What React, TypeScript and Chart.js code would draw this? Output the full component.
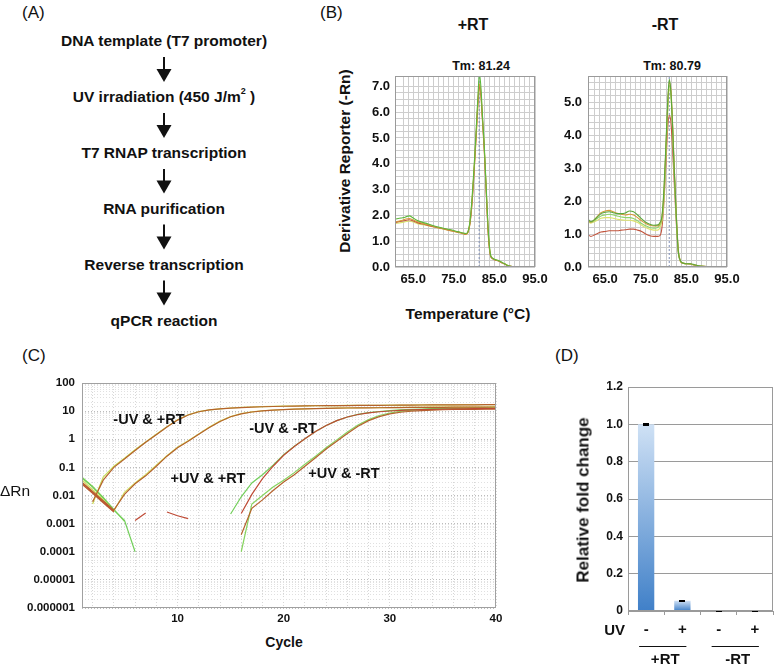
import React, { useEffect, useRef } from 'react';
import { Chart, registerables } from 'chart.js';

Chart.register(...registerables);

const FONT = '"Liberation Sans", Arial, Helvetica, sans-serif';

// ---------------- Panel A ----------------
const A_STEPS = [
  'DNA template (T7 promoter)',
  'UV irradiation (450 J/m',
  'T7 RNAP transcription',
  'RNA purification',
  'Reverse transcription',
  'qPCR reaction',
];

// ---------------- Panel B (melt curves) ----------------
const B1_TITLE = '+RT';
const B2_TITLE = '-RT';
const B1_TM = 81.24;
const B2_TM = 80.79;

const B1_TEMP = [60.5, 62, 63, 64, 65, 66, 68, 70, 72, 74, 76, 77, 78, 78.5, 79, 79.5, 80, 80.5, 81, 81.3, 81.7, 82, 82.5, 83, 83.5, 84, 84.5, 85, 86, 87, 88, 89, 90, 91, 92.8];
const B1_GREEN = [1.85, 1.9, 1.93, 1.98, 1.9, 1.8, 1.7, 1.6, 1.52, 1.45, 1.37, 1.33, 1.3, 1.38, 1.8, 2.7, 3.9, 5.3, 6.8, 7.5, 6.9, 6.0, 4.7, 3.0, 1.4, 0.5, 0.35, 0.3, 0.25, 0.17, 0.08, 0.03, 0.01, 0.0, 0.0];
const B1_ORANGE = [1.75, 1.8, 1.85, 1.88, 1.82, 1.75, 1.66, 1.58, 1.5, 1.43, 1.36, 1.32, 1.28, 1.36, 1.75, 2.6, 3.8, 5.2, 6.6, 7.1, 6.7, 5.9, 4.6, 2.9, 1.3, 0.48, 0.34, 0.29, 0.24, 0.16, 0.08, 0.03, 0.01, 0.0, 0.0];
const B1_RED = [1.72, 1.77, 1.8, 1.83, 1.78, 1.72, 1.64, 1.56, 1.49, 1.42, 1.35, 1.31, 1.27, 1.35, 1.7, 2.5, 3.7, 5.1, 6.5, 7.0, 6.6, 5.8, 4.5, 2.8, 1.2, 0.45, 0.33, 0.28, 0.23, 0.15, 0.07, 0.03, 0.01, 0.0, 0.0];
const B1_YELLOW = [1.68, 1.72, 1.75, 1.78, 1.74, 1.68, 1.62, 1.55, 1.48, 1.41, 1.34, 1.3, 1.26, 1.33, 1.72, 2.55, 3.75, 5.0, 6.4, 6.9, 6.6, 5.85, 4.6, 2.9, 1.3, 0.47, 0.34, 0.29, 0.24, 0.16, 0.08, 0.03, 0.01, 0.0, 0.0];

const B2_TEMP = [60.8, 61.5, 62.5, 64, 65, 66, 67, 68, 69, 70, 71, 72, 73, 74, 75, 76, 77, 78, 78.5, 79, 79.5, 80, 80.4, 80.8, 81.2, 81.6, 82, 82.5, 83, 83.5, 84, 85, 86, 87, 88, 89, 90, 91, 92.5];
const B2_GREEN = [1.45, 1.38, 1.45, 1.62, 1.66, 1.68, 1.65, 1.62, 1.62, 1.64, 1.7, 1.68, 1.58, 1.46, 1.36, 1.3, 1.27, 1.28, 1.35, 1.55, 2.4, 3.8, 5.0, 5.7, 5.3, 4.3, 3.0, 1.6, 0.5, 0.2, 0.13, 0.1, 0.1, 0.07, 0.04, 0.02, 0.01, 0.0, 0.0];
const B2_ORANGE = [1.42, 1.36, 1.45, 1.65, 1.7, 1.72, 1.68, 1.63, 1.6, 1.58, 1.6, 1.58, 1.5, 1.4, 1.32, 1.27, 1.25, 1.25, 1.32, 1.5, 2.3, 3.7, 4.9, 5.6, 5.4, 4.4, 3.1, 1.7, 0.55, 0.2, 0.12, 0.1, 0.09, 0.06, 0.03, 0.02, 0.01, 0.0, 0.0];
const B2_LIGHT = [1.4, 1.35, 1.42, 1.55, 1.58, 1.6, 1.58, 1.55, 1.52, 1.5, 1.5, 1.47, 1.4, 1.32, 1.25, 1.2, 1.18, 1.2, 1.28, 1.45, 2.2, 3.6, 4.8, 5.5, 5.3, 4.3, 3.0, 1.6, 0.5, 0.2, 0.12, 0.1, 0.09, 0.06, 0.03, 0.02, 0.01, 0.0, 0.0];
const B2_YELLOW = [1.38, 1.33, 1.38, 1.48, 1.5, 1.5, 1.48, 1.45, 1.43, 1.42, 1.42, 1.4, 1.35, 1.27, 1.2, 1.15, 1.12, 1.12, 1.2, 1.4, 2.1, 3.5, 4.7, 5.4, 5.2, 4.2, 2.9, 1.5, 0.48, 0.18, 0.12, 0.1, 0.09, 0.06, 0.03, 0.02, 0.01, 0.0, 0.0];
const B2_RED = [0.98, 0.93, 0.98, 1.06, 1.08, 1.1, 1.1, 1.1, 1.12, 1.13, 1.15, 1.15, 1.12, 1.08, 1.0, 0.95, 0.93, 0.93, 0.95, 1.2, 2.0, 3.2, 4.2, 4.6, 4.4, 3.6, 2.6, 1.4, 0.45, 0.18, 0.12, 0.1, 0.09, 0.06, 0.03, 0.02, 0.01, 0.0, 0.0];

// ---------------- Panel C (amplification plot) ----------------
const C_CYCLES = [1, 2, 3, 4, 5, 6, 7, 8, 9, 10, 11, 12, 13, 14, 15, 16, 17, 18, 19, 20, 21, 22, 23, 24, 25, 26, 27, 28, 29, 30, 31, 32, 33, 34, 35, 36, 37, 38, 39, 40];
const C_Y_TICKS = [100, 10, 1, 0.1, 0.01, 0.001, 0.0001, 0.00001, 0.000001];
const C_X_TICKS = [10, 20, 30, 40];

const C_MUV_PRT_BROWN = [null, 0.006, 0.035, 0.1, 0.2, 0.4, 0.78, 1.45, 2.7, 4.8, 7.3, 9.5, 11, 12, 12.8, 13.4, 13.9, 14.3, 14.6, 14.9, 15.1, 15.3, 15.5, 15.6, 15.7, 15.8, 15.9, 16, 16.1, 16.2, 16.3, 16.4, 16.5, 16.6, 16.6, 16.7, 16.8, 16.8, 16.9, 17];
const C_MUV_PRT_GREEN = [null, 0.005, 0.045, 0.11, 0.21, 0.42, 0.8, 1.5, 2.8, 4.9, 7.4, 9.6, 11.1, 12.1, 12.9, 13.5, 14, 14.4, 14.7, 15, 15.2, 15.4, 15.6, 15.7, 15.8, 15.9, 16, 16.1, 16.2, 16.3, 16.4, 16.5, 16.6, 16.7, 16.7, 16.8, 16.9, 16.9, 17, 17.1];
const C_PUV_PRT_BROWN = [0.03, 0.014, 0.0065, 0.003, 0.011, 0.026, 0.05, 0.11, 0.25, 0.5, 0.85, 1.5, 2.6, 4.3, 6.3, 8, 9.3, 10.2, 10.8, 11.3, 11.7, 12, 12.3, 12.5, 12.7, 12.9, 13, 13.1, 13.2, 13.3, 13.4, 13.5, 13.6, 13.7, 13.7, 13.8, 13.8, 13.9, 13.9, 14];
const C_PUV_PRT_GREEN = [0.036, 0.016, 0.007, 0.0028, 0.013, 0.028, 0.055, 0.12, 0.26, 0.52, 0.88, 1.55, 2.7, 4.4, 6.4, 8.1, 9.4, 10.3, 10.9, 11.4, 11.8, 12.1, 12.4, 12.6, 12.8, 13, 13.1, 13.2, 13.3, 13.4, 13.5, 13.6, 13.7, 13.8, 13.8, 13.9, 13.9, 14, 14, 14.1];
const C_MUV_MRT_BROWN = [0.028, 0.013, 0.006, 0.0028, null, 0.0013, 0.0024, null, 0.0026, 0.0019, 0.0015, null, null, null, null, 0.0023, 0.011, 0.04, 0.11, 0.27, 0.55, 1.05, 1.9, 3.1, 4.6, 6.2, 7.6, 8.7, 9.5, 10.1, 10.6, 11, 11.3, 11.6, 11.8, 12, 12.1, 12.2, 12.3, 12.4];
const C_MUV_MRT_GREEN = [0.042, 0.02, 0.008, 0.003, 0.0013, 0.0001, null, null, null, null, null, null, null, null, 0.0022, 0.009, 0.028, 0.055, 0.12, 0.28, 0.56, 1.05, 1.9, 3.1, 4.6, 6.2, 7.7, 8.8, 9.7, 10.4, 11, 11.5, 11.9, 12.2, 12.5, 12.7, 12.9, 13, 13.1, 13.2];
const C_PUV_MRT_BROWN = [0.025, 0.012, 0.0055, 0.0026, null, null, null, null, null, null, null, null, null, null, null, 0.0004, 0.0035, 0.007, 0.015, 0.03, 0.055, 0.11, 0.22, 0.45, 0.85, 1.6, 2.9, 4.6, 6.4, 8, 9.1, 9.9, 10.5, 10.9, 11.2, 11.4, 11.5, 11.6, 11.7, 11.8];
const C_PUV_MRT_GREEN = [0.045, 0.021, 0.0085, 0.0032, 0.0012, null, null, null, null, null, null, null, null, null, null, 0.0001, 0.005, 0.01, 0.02, 0.035, 0.065, 0.13, 0.25, 0.5, 0.95, 1.8, 3.2, 5, 7, 8.6, 9.8, 10.7, 11.3, 11.8, 12.2, 12.5, 12.7, 12.9, 13, 13.1];

const C_LABELS = ['-UV & +RT', '-UV & -RT', '+UV & +RT', '+UV & -RT'];

// ---------------- Panel D (bars) ----------------
const D_UV = ['-', '+', '-', '+'];
const D_GROUPS = ['+RT', '-RT'];
const D_FACTOR = 'UV';
const D_VALUES = [1.0, 0.055, 0.003, 0.002];
const D_ERRORS = [0.008, 0.006, 0.004, 0.004];

// ---------------- helpers ----------------
const fixY = (w: number) => (s: any) => { s.width = w; s.paddingTop = 0; s.paddingBottom = 0; };
const fixX = (h: number) => (s: any) => { s.height = h; s.paddingLeft = 0; s.paddingRight = 0; };

const framePlugin = {
  id: 'frame',
  afterDraw(chart: any, _a: any, opts: any) {
    const { ctx, chartArea } = chart;
    if (!chartArea) return;
    ctx.save();
    ctx.strokeStyle = opts.color || '#999';
    ctx.lineWidth = 1;
    const l = Math.round(chartArea.left), t = Math.round(chartArea.top);
    const r = Math.round(chartArea.right), b = Math.round(chartArea.bottom);
    ctx.strokeRect(l + 0.5, t + 0.5, r - l - 1, b - t - 1);
    ctx.restore();
  },
};

const isInt = (v: number) => Math.abs(v - Math.round(v)) < 1e-6;

function meltConfig(temps: number[], series: { v: number[]; c: string }[], o: any) {
  return {
    type: 'line',
    data: {
      datasets: [
        ...series.map((s) => ({
          data: temps.map((t, i) => ({ x: t, y: s.v[i] })),
          borderColor: s.c,
          borderWidth: 1.1,
          pointRadius: 0,
          cubicInterpolationMode: 'monotone',
          fill: false,
        })),
        {
          data: [{ x: o.tm, y: 0 }, { x: o.tm, y: o.yMax }],
          borderColor: '#7f8fb8',
          borderWidth: 1,
          borderDash: [2, 2],
          pointRadius: 0,
        },
      ],
    },
    options: {
      responsive: false,
      animation: false,
      events: [],
      layout: { padding: o.pad },
      plugins: { legend: { display: false }, tooltip: { enabled: false }, frame: { color: '#9a9a9a' } },
      scales: {
        x: {
          type: 'linear',
          min: o.xMin,
          max: 95,
          afterFit: fixX(o.axisH),
          grid: { color: '#cdcdcd', drawTicks: false },
          border: { display: false },
          ticks: {
            stepSize: 1.25,
            autoSkip: false,
            maxRotation: 0,
            padding: 5,
            color: '#111',
            font: { family: FONT, size: 13, weight: 'bold' },
            callback: (v: number) => (Math.abs((v % 10) - 5) < 1e-6 ? v.toFixed(1) : ''),
          },
        },
        y: {
          type: 'linear',
          min: 0,
          max: o.yMax,
          afterFit: fixY(o.axisW),
          grid: { color: '#cdcdcd', drawTicks: false },
          border: { display: false },
          ticks: {
            stepSize: o.yStep,
            autoSkip: false,
            padding: o.yPad,
            color: '#111',
            font: { family: FONT, size: 13, weight: 'bold' },
            callback: (v: number) => (isInt(v) ? v.toFixed(1) : ''),
          },
        },
      },
    },
    plugins: [framePlugin],
  };
}

const makeB1 = () =>
  meltConfig(
    B1_TEMP,
    [
      { v: B1_GREEN, c: '#5db83b' },
      { v: B1_ORANGE, c: '#d69a3c' },
      { v: B1_RED, c: '#c2553e' },
      { v: B1_YELLOW, c: '#d9e26b' },
    ],
    { tm: B1_TM, yMax: 7.4, yStep: 0.25, xMin: 60.5, axisW: 55, axisH: 43, yPad: 5, pad: { left: 0, top: 6, right: 15, bottom: 0 } }
  );

const makeB2 = () =>
  meltConfig(
    B2_TEMP,
    [
      { v: B2_GREEN, c: '#5aa83a' },
      { v: B2_ORANGE, c: '#d69a3c' },
      { v: B2_LIGHT, c: '#8fd46a' },
      { v: B2_YELLOW, c: '#dde36c' },
      { v: B2_RED, c: '#c2553e' },
    ],
    { tm: B2_TM, yMax: 5.8, yStep: 0.2, xMin: 60.8, axisW: 43, axisH: 43, yPad: 6, pad: { left: 0, top: 6, right: 18, bottom: 0 } }
  );

const cLine = (vals: (number | null)[], color: string) => ({
  data: C_CYCLES.map((c, i) => ({ x: c, y: vals[i] })),
  borderColor: color,
  borderWidth: 1.2,
  pointRadius: 0,
  tension: 0,
  spanGaps: false,
  fill: false,
});

const BROWN = '#b5622d';
const makeC = () => ({
  type: 'line',
  data: {
    datasets: [
      cLine(C_MUV_PRT_BROWN, BROWN),
      cLine(C_PUV_PRT_BROWN, BROWN),
      cLine(C_MUV_MRT_BROWN, '#bf4a35'),
      cLine(C_PUV_MRT_BROWN, BROWN),
      cLine(C_MUV_PRT_GREEN, '#c8dc55'),
      cLine(C_PUV_PRT_GREEN, '#d2de5a'),
      cLine(C_MUV_MRT_GREEN, '#72cf5a'),
      cLine(C_PUV_MRT_GREEN, '#86d45e'),
    ],
  },
  options: {
    responsive: false,
    animation: false,
    events: [],
    layout: { padding: { left: 0, top: 13, right: 14, bottom: 0 } },
    plugins: { legend: { display: false }, tooltip: { enabled: false }, frame: { color: '#a0a0a0' } },
    scales: {
      x: {
        type: 'linear',
        min: 1,
        max: 40,
        afterFit: fixX(24),
        grid: { color: '#d6d6d6', drawTicks: false },
        border: { display: false, dash: [1, 2] },
        ticks: {
          stepSize: 2,
          autoSkip: false,
          maxRotation: 0,
          padding: 4,
          color: '#111',
          font: { family: FONT, size: 11.5, weight: 'bold' },
          callback: (v: number) => (C_X_TICKS.includes(v) ? String(v) : ''),
        },
      },
      y: {
        type: 'logarithmic',
        min: 0.000001,
        max: 100,
        afterFit: fixY(62),
        grid: {
          drawTicks: false,
          color: (ctx: any) => {
            const v = ctx.tick ? ctx.tick.value : 1;
            return isInt(Math.log10(v)) ? '#bcbcbc' : '#e0e0e0';
          },
        },
        border: { display: false, dash: [1, 2] },
        ticks: {
          autoSkip: false,
          padding: 7,
          color: '#111',
          font: { family: FONT, size: 11.5, weight: 'bold' },
          callback: (v: number) => {
            const hit = C_Y_TICKS.find((t) => Math.abs(Math.log10(t) - Math.log10(v)) < 1e-6);
            if (hit === undefined) return '';
            return hit >= 1 ? String(hit) : hit.toFixed(Math.round(-Math.log10(hit)));
          },
        },
      },
    },
  },
  plugins: [framePlugin],
});

const dPlugin = {
  id: 'dAnnot',
  afterDatasetsDraw(chart: any) {
    const { ctx, scales } = chart;
    const meta = chart.getDatasetMeta(0);
    ctx.save();
    ctx.fillStyle = '#000';
    D_VALUES.forEach((v, i) => {
      const bar = meta.data[i];
      const yt = scales.y.getPixelForValue(v + D_ERRORS[i]);
      const yb = scales.y.getPixelForValue(Math.max(0, v - D_ERRORS[i]));
      ctx.fillRect(Math.round(bar.x) - 3, Math.round(yt), 6, Math.max(2, Math.round(yb - yt)));
    });
    ctx.restore();
  },
  afterDraw(chart: any) {
    const { ctx, chartArea, scales } = chart;
    const b = chartArea.bottom;
    ctx.save();
    ctx.fillStyle = '#111';
    ctx.strokeStyle = '#111';
    ctx.lineWidth = 1;
    ctx.font = `bold 15px ${FONT}`;
    ctx.textBaseline = 'middle';
    ctx.textAlign = 'right';
    ctx.fillText(D_FACTOR, chartArea.left - 3, b + 20);
    D_GROUPS.forEach((g, gi) => {
      const xa = scales.x.getPixelForValue(gi * 2);
      const xb = scales.x.getPixelForValue(gi * 2 + 1);
      ctx.beginPath();
      ctx.moveTo(xa - 7, Math.round(b + 35) + 0.5);
      ctx.lineTo(xb + 4, Math.round(b + 35) + 0.5);
      ctx.stroke();
      ctx.textAlign = 'center';
      ctx.fillText(g, (xa + xb) / 2 + 1, b + 49);
    });
    ctx.restore();
  },
};

const makeD = () => ({
  type: 'bar',
  data: {
    labels: D_UV,
    datasets: [
      {
        data: D_VALUES,
        borderWidth: 0,
        barPercentage: 0.45,
        categoryPercentage: 1,
        backgroundColor: (ctx: any) => {
          const chart = ctx.chart;
          if (!chart.chartArea || !chart.scales.y) return '#9fc2ea';
          const y = chart.scales.y;
          const top = y.getPixelForValue(ctx.raw);
          const base = y.getPixelForValue(0);
          if (!isFinite(top) || base - top < 1) return '#9fc2ea';
          const g = chart.ctx.createLinearGradient(0, base, 0, top);
          g.addColorStop(0, '#4080c8');
          g.addColorStop(1, '#cfe1f5');
          return g;
        },
      },
    ],
  },
  options: {
    responsive: false,
    animation: false,
    events: [],
    layout: { padding: { left: 0, top: 12, right: 2, bottom: 0 } },
    plugins: { legend: { display: false }, tooltip: { enabled: false }, frame: { color: '#9a9a9a' } },
    scales: {
      x: {
        afterFit: fixX(54),
        grid: { offset: true, drawOnChartArea: false, drawTicks: true, tickLength: 4, color: '#9a9a9a' },
        border: { display: false },
        ticks: { padding: 6, color: '#111', font: { family: FONT, size: 15, weight: 'bold' } },
      },
      y: {
        min: 0,
        max: 1.2,
        afterFit: fixY(58),
        grid: { color: '#9a9a9a', drawTicks: false },
        border: { display: false },
        ticks: {
          stepSize: 0.2,
          padding: 5,
          color: '#111',
          font: { family: FONT, size: 12, weight: 'bold' },
          callback: (v: number) => (Math.abs(v) < 1e-9 ? '0' : v.toFixed(1)),
        },
      },
    },
  },
  plugins: [framePlugin, dPlugin],
});

function ChartCanvas({ left, top, width, height, make }: { left: number; top: number; width: number; height: number; make: () => any }) {
  const ref = useRef<HTMLCanvasElement>(null);
  useEffect(() => {
    const chart = new Chart(ref.current as HTMLCanvasElement, make());
    return () => chart.destroy();
  }, []);
  return (
    <canvas
      ref={ref}
      width={width}
      height={height}
      style={{ position: 'absolute', left, top, width, height, display: 'block' }}
    />
  );
}

function T({ x, y, size, bold = true, rotate = 0, align = 'center', children }: any) {
  const tx = align === 'center' ? '-50%' : align === 'left' ? '0%' : '-100%';
  return (
    <div
      style={{
        position: 'absolute',
        left: x,
        top: y,
        transform: `translate(${tx},-50%) rotate(${rotate}deg)`,
        fontFamily: FONT,
        fontSize: size,
        fontWeight: bold ? 700 : 400,
        lineHeight: 1,
        whiteSpace: 'nowrap',
        color: '#111',
      }}
    >
      {children}
    </div>
  );
}

const A_Y = [41, 97, 153, 208.5, 264.5, 320.5];

function Arrows() {
  const items = [];
  for (let i = 0; i < A_Y.length - 1; i++) {
    const y1 = A_Y[i] + 16;
    const y2 = A_Y[i + 1] - 16;
    items.push(
      <g key={i}>
        <line x1={164} y1={y1} x2={164} y2={y2 - 10} stroke="#111" strokeWidth={2} />
        <polygon points={`${156.5},${y2 - 12} ${171.5},${y2 - 12} ${164},${y2 + 1}`} fill="#111" />
      </g>
    );
  }
  return (
    <svg width={330} height={340} style={{ position: 'absolute', left: 0, top: 0 }}>
      {items}
    </svg>
  );
}

export default function App() {
  return (
    <div style={{ position: 'absolute', left: 0, top: 0, width: 775, height: 665, background: '#fff', overflow: 'hidden' }}>
      {/* Panel A */}
      <T x={22} y={12} size={17} bold={false} align="left">(A)</T>
      <Arrows />
      {A_STEPS.map((s, i) => (
        <T key={i} x={164} y={A_Y[i]} size={15.5}>
          {i === 1 ? (
            <span>
              {s}
              <sup style={{ fontSize: 9, verticalAlign: 'top', position: 'relative', top: -2 }}>2</sup> )
            </span>
          ) : (
            s
          )}
        </T>
      ))}

      {/* Panel B */}
      <T x={320} y={12} size={17} bold={false} align="left">(B)</T>
      <T x={473} y={25} size={16}>{B1_TITLE}</T>
      <T x={665} y={25} size={16}>{B2_TITLE}</T>
      <T x={481} y={66} size={12.5}>{`Tm: ${B1_TM.toFixed(2)}`}</T>
      <T x={672} y={66} size={12.5}>{`Tm: ${B2_TM.toFixed(2)}`}</T>
      <T x={345} y={161} size={15.5} rotate={-90}>Derivative Reporter (-Rn)</T>
      <T x={468} y={314} size={15.5}>Temperature (°C)</T>
      <ChartCanvas left={340} top={70} width={210} height={240} make={makeB1} />
      <ChartCanvas left={545} top={70} width={200} height={240} make={makeB2} />

      {/* Panel C */}
      <T x={22} y={355} size={17} bold={false} align="left">(C)</T>
      <ChartCanvas left={20} top={370} width={490} height={262} make={makeC} />
      <T x={0} y={491} size={15.5} bold={false} align="left">ΔRn</T>
      <T x={284} y={642} size={14}>Cycle</T>
      <T x={149} y={419} size={14.5}>{C_LABELS[0]}</T>
      <T x={283} y={428} size={14.5}>{C_LABELS[1]}</T>
      <T x={208} y={478} size={14.5}>{C_LABELS[2]}</T>
      <T x={344} y={473} size={14.5}>{C_LABELS[3]}</T>

      {/* Panel D */}
      <T x={555} y={355} size={17} bold={false} align="left">(D)</T>
      <ChartCanvas left={570} top={375} width={205} height={290} make={makeD} />
      <T x={583} y={500} size={17} rotate={-90}>Relative fold change</T>
    </div>
  );
}
